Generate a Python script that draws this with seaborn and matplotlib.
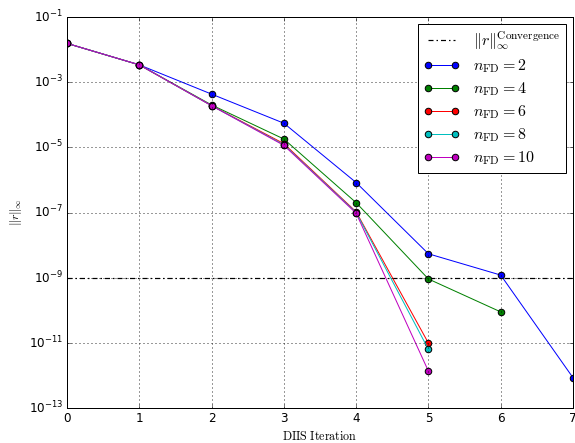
import numpy as np
import matplotlib
matplotlib.use('Agg')
import matplotlib.pyplot as plt
import seaborn as sns

iterations = [0, 1, 2, 3, 4, 5, 6, 7]
n_fd = [2, 4, 6, 8, 10]
colors = ['b', 'g', 'r', 'c', 'm']

res_2 = [1.55e-2, 3.4e-3, 4.3e-4, 5.5e-5, 8.3e-7, 5.4e-9, 1.2e-9, 8.5e-13]
res_4 = [1.55e-2, 3.4e-3, 2.0e-4, 1.8e-5, 2.0e-7, 9.1e-10, 8.9e-11]
res_6 = [1.55e-2, 3.4e-3, 1.9e-4, 1.3e-5, 1.05e-7, 9.8e-12]
res_8 = [1.55e-2, 3.4e-3, 1.9e-4, 1.2e-5, 1.0e-7, 6.3e-12]
res_10 = [1.55e-2, 3.4e-3, 1.9e-4, 1.15e-5, 9.5e-8, 1.35e-12]
residuals = [res_2, res_4, res_6, res_8, res_10]

tol = 1e-9
yticks = [1e-1, 1e-3, 1e-5, 1e-7, 1e-9, 1e-11, 1e-13]

plt.style.use('classic')
plt.rcParams['mathtext.fontset'] = 'cm'

fig = plt.figure(figsize=(575 / 72, 443 / 72), dpi=72, facecolor='white')
ax = fig.add_axes([67 / 575, 35 / 443, 506 / 575, 391 / 443])

ax.axhline(tol, color='k', lw=1.2, dashes=(5, 3, 1.5, 3),
           label=r'$\|r\|_\infty^{\mathrm{Convergence}}$')

for n, c, res in zip(n_fd, colors, residuals):
    sns.lineplot(x=iterations[:len(res)], y=res, color=c, marker='o',
                 markersize=6.5, markeredgecolor='k', markeredgewidth=1,
                 lw=1, label=r'$n_{\mathrm{FD}} = %d$' % n, ax=ax)

ax.set_yscale('log')
ax.set_ylim(1e-13, 1e-1)
ax.set_xlim(0, 7)
ax.set_yticks(yticks)
ax.grid(True, color='k', ls=(0, (1, 3)), lw=0.8)
ax.set_xlabel(r'$\mathrm{DIIS\ Iteration}$')
ax.set_ylabel(r'$\|r\|_\infty$')
ax.legend(loc='upper right', fontsize=16, numpoints=2, handlelength=2.3,
          borderpad=0.35, labelspacing=0.33, handletextpad=0.8,
          borderaxespad=0.45)

fig.savefig('out.png', dpi=72, facecolor='white')
